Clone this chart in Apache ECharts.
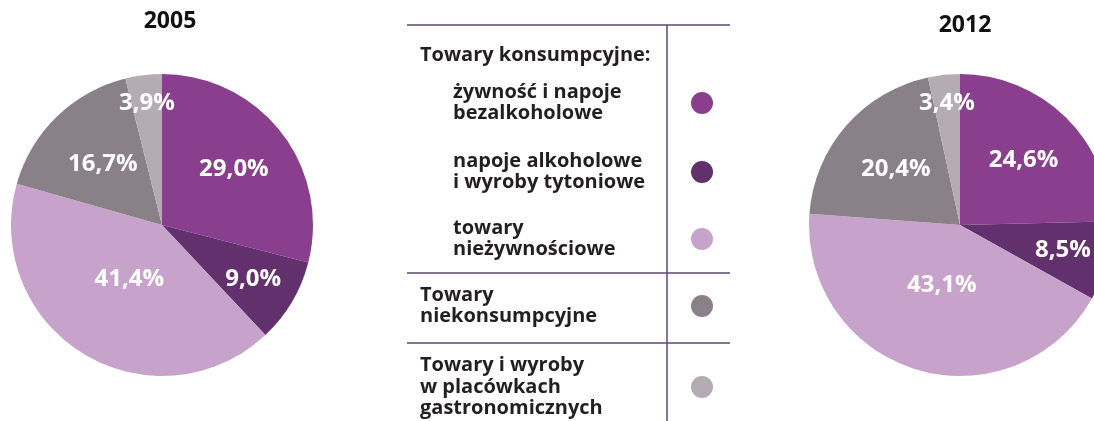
<!DOCTYPE html>
<html>
<head>
<meta charset="utf-8">
<script src="https://cdn.jsdelivr.net/npm/echarts@6/dist/echarts.min.js"></script>
<style>
  html, body { margin: 0; padding: 0; background: #fff; }
  #chart { width: 1094px; height: 421px; }
</style>
</head>
<body>
<div id="chart"></div>
<script>
// dane
const categories = [
    'żywność i napoje\nbezalkoholowe',
    'napoje alkoholowe\ni wyroby tytoniowe',
    'towary\nnieżywnościowe',
    'Towary\nniekonsumpcyjne',
    'Towary i wyroby\nw placówkach\ngastronomicznych'
];
const groupTitle = 'Towary konsumpcyjne:';
const years = ['2005', '2012'];
const values2005 = [29.0, 9.0, 41.4, 16.7, 3.9];
const values2012 = [24.6, 8.5, 43.1, 20.4, 3.4];
const colors = ['#8a3f8e', '#62316d', '#c7a3cc', '#8a8088', '#b4acb2'];

const font = '"Open Sans", sans-serif';
const R = 151;
// odległość etykiety od środka koła (dla każdego wycinka)
const labelRadius = [91, 106, 63, 85, 123];

const chart = echarts.init(document.getElementById('chart'));

function pieSeries(values, center) {
    return {
        type: 'pie',
        center: center,
        radius: R,
        startAngle: 90,
        clockwise: true,
        silent: true,
        label: {
            position: 'inside',
            color: '#fff',
            fontFamily: font,
            fontWeight: 'bold',
            fontSize: 24,
            formatter: p => p.value.toFixed(1).replace('.', ',') + '%'
        },
        labelLine: { show: false },
        // przesunięcie etykiet promieniowo
        labelLayout: p => {
            const cx = p.labelRect.x + p.labelRect.width / 2 - center[0];
            const cy = p.labelRect.y + p.labelRect.height / 2 - center[1];
            const d = Math.sqrt(cx * cx + cy * cy) || 1;
            const k = labelRadius[p.dataIndex] / d - 1;
            return { dx: cx * k, dy: cy * k };
        },
        itemStyle: { borderWidth: 0 },
        data: values.map((v, i) => ({
            name: categories[i],
            value: v,
            itemStyle: { color: colors[i] }
        }))
    };
}

// legenda w formie tabelki
const lineStyle = { stroke: '#5d4a70', lineWidth: 1.5 };
const rowY = [103, 172, 239, 306, 387];
const textFont = 'bold 20px ' + font;
const legend = [
    { type: 'line', shape: { x1: 407, y1: 25, x2: 730, y2: 25 }, style: lineStyle },
    { type: 'line', shape: { x1: 667, y1: 25, x2: 667, y2: 421 }, style: lineStyle },
    { type: 'line', shape: { x1: 407, y1: 273, x2: 730, y2: 273 }, style: lineStyle },
    { type: 'line', shape: { x1: 407, y1: 343, x2: 730, y2: 343 }, style: lineStyle },
    {
        type: 'text', x: 420, y: 55,
        style: { text: groupTitle, font: textFont, fill: '#231f20', verticalAlign: 'middle' }
    }
];
categories.forEach((c, i) => {
    legend.push({
        type: 'text', x: i < 3 ? 453 : 420, y: rowY[i],
        style: {
            text: c, font: textFont, fill: '#231f20',
            verticalAlign: 'middle', lineHeight: 21.5
        }
    });
    legend.push({
        type: 'circle', shape: { cx: 702, cy: rowY[i], r: 11 },
        style: { fill: colors[i] }
    });
});

const titleStyle = { fontFamily: font, fontWeight: 'bold', fontSize: 23, color: '#111' };

chart.setOption({
    animation: false,
    title: [
        { text: years[0], left: 165, top: 5, textAlign: 'center', textStyle: titleStyle },
        { text: years[1], left: 960, top: 9, textAlign: 'center', textStyle: titleStyle }
    ],
    series: [
        pieSeries(values2005, [162, 225]),
        pieSeries(values2012, [960, 225])
    ],
    graphic: legend
});
</script>
</body>
</html>
